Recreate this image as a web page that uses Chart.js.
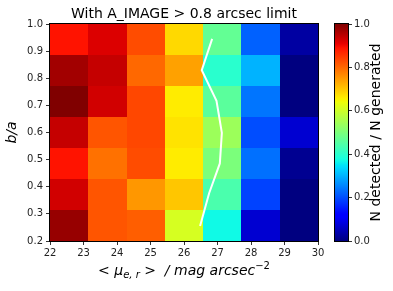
<!DOCTYPE html>
<html>
<head>
<meta charset="utf-8">
<script src="https://cdn.jsdelivr.net/npm/chart.js@4.4.0/dist/chart.umd.min.js"></script>
<style>
  html, body { margin: 0; padding: 0; background: #fff; }
  #wrap { position: relative; width: 393px; height: 291px; }
  #main { position: absolute; left: 0; top: 0; }
  #cbar { position: absolute; left: 320px; top: 0; }
</style>
</head>
<body>
<div id="wrap">
  <canvas id="main" width="393" height="291"></canvas>
  <canvas id="cbar" width="73" height="291"></canvas>
</div>
<script>
// bin edges of the 7x7 grid
const xEdges = [22, 23.143, 24.286, 25.429, 26.571, 27.714, 28.857, 30];
const yEdges = [0.2, 0.314, 0.429, 0.543, 0.657, 0.771, 0.886, 1.0];

// detection fraction, one array per b/a row (bottom row first)
const row1 = [0.98, 0.82, 0.81, 0.61, 0.37, 0.07, 0.00];
const row2 = [0.93, 0.82, 0.75, 0.70, 0.44, 0.19, 0.00];
const row3 = [0.89, 0.79, 0.83, 0.66, 0.50, 0.235, 0.015];
const row4 = [0.94, 0.82, 0.835, 0.67, 0.54, 0.20, 0.07];
const row5 = [1.00, 0.93, 0.835, 0.66, 0.46, 0.24, 0.00];
const row6 = [0.97, 0.94, 0.80, 0.74, 0.40, 0.30, 0.00];
const row7 = [0.89, 0.92, 0.83, 0.68, 0.47, 0.22, 0.03];
const grid = [row1, row2, row3, row4, row5, row6, row7];

// 50% completeness curve
const lineX = [26.48, 26.75, 27.07, 27.13, 26.97, 26.53, 26.84];
const lineY = [0.255, 0.376, 0.486, 0.599, 0.717, 0.830, 0.945];

const xTicks = [22, 23, 24, 25, 26, 27, 28, 29, 30];
const yTicks = [0.2, 0.3, 0.4, 0.5, 0.6, 0.7, 0.8, 0.9, 1.0];
const cbTicks = [0.0, 0.2, 0.4, 0.6, 0.8, 1.0];

const FONT = 'DejaVu Sans';

// matplotlib "jet"
function interp(pts, v) {
  for (let i = 1; i < pts.length; i++) {
    if (v <= pts[i][0]) {
      const a = pts[i - 1], b = pts[i];
      return a[1] + (b[1] - a[1]) * (v - a[0]) / (b[0] - a[0]);
    }
  }
  return pts[pts.length - 1][1];
}
function jet(v) {
  v = Math.max(0, Math.min(1, v));
  const r = interp([[0, 0], [0.35, 0], [0.66, 1], [0.89, 1], [1, 0.5]], v);
  const g = interp([[0, 0], [0.125, 0], [0.375, 1], [0.64, 1], [0.91, 0], [1, 0]], v);
  const b = interp([[0, 0.5], [0.11, 1], [0.34, 1], [0.65, 0], [1, 0]], v);
  return 'rgb(' + Math.round(r * 255) + ',' + Math.round(g * 255) + ',' + Math.round(b * 255) + ')';
}

const heatPlugin = {
  id: 'heat',
  beforeDatasetsDraw(chart) {
    const ctx = chart.ctx, xs = chart.scales.x, ys = chart.scales.y;
    grid.forEach((row, i) => {
      row.forEach((v, j) => {
        const x0 = Math.round(xs.getPixelForValue(xEdges[j]));
        const x1 = Math.round(xs.getPixelForValue(xEdges[j + 1]));
        const y0 = Math.round(ys.getPixelForValue(yEdges[i + 1]));
        const y1 = Math.round(ys.getPixelForValue(yEdges[i]));
        ctx.fillStyle = jet(v);
        ctx.fillRect(x0, y0, x1 - x0, y1 - y0);
      });
    });
  },
  afterDraw(chart) {
    const ctx = chart.ctx, a = chart.chartArea;
    ctx.save();
    ctx.strokeStyle = '#000';
    ctx.lineWidth = 1;
    ctx.strokeRect(Math.round(a.left) - 0.5, Math.round(a.top) - 0.5,
      Math.round(a.right - a.left) + 1, Math.round(a.bottom - a.top) + 1);

    ctx.fillStyle = '#000';

    // title
    ctx.font = '14px ' + FONT;
    ctx.textAlign = 'center';
    ctx.textBaseline = 'alphabetic';
    ctx.fillText('With A_IMAGE > 0.8 arcsec limit', (a.left + a.right) / 2, 18);

    // y label
    ctx.save();
    ctx.translate(12, (a.top + a.bottom) / 2);
    ctx.rotate(-Math.PI / 2);
    ctx.font = 'italic 14px ' + FONT;
    ctx.textAlign = 'center';
    ctx.textBaseline = 'middle';
    ctx.fillText('b/a', 0, 0);
    ctx.restore();

    // x label with sub/superscripts
    const parts = [
      { t: '<', f: '14px ' + FONT, dy: 0 },
      { t: ' μ', f: 'italic 14px ' + FONT, dy: 0 },
      { t: 'e, r', f: 'italic 10px ' + FONT, dy: 3 },
      { t: ' > ', f: '14px ' + FONT, dy: 0 },
      { t: ' / mag arcsec', f: 'italic 14px ' + FONT, dy: 0 },
      { t: '−2', f: '10px ' + FONT, dy: -6 }
    ];
    let w = 0;
    parts.forEach(p => { ctx.font = p.f; p.w = ctx.measureText(p.t).width; w += p.w; });
    let x = (a.left + a.right) / 2 - w / 2;
    ctx.textAlign = 'left';
    ctx.textBaseline = 'alphabetic';
    parts.forEach(p => { ctx.font = p.f; ctx.fillText(p.t, x, 275 + p.dy); x += p.w; });
    ctx.restore();
  }
};

const tickFont = { family: FONT, size: 10 };

new Chart(document.getElementById('main'), {
  type: 'line',
  data: {
    datasets: [{
      data: lineX.map((x, i) => ({ x: x, y: lineY[i] })),
      borderColor: '#fff',
      borderWidth: 2,
      pointRadius: 0,
      tension: 0,
      fill: false
    }]
  },
  options: {
    responsive: false,
    animation: false,
    layout: { padding: { left: 0, right: 75, top: 24, bottom: 0 } },
    plugins: {
      legend: { display: false },
      tooltip: { enabled: false },
      title: { display: false }
    },
    scales: {
      x: {
        type: 'linear', min: 22, max: 30,
        afterBuildTicks(s) { s.ticks = xTicks.map(v => ({ value: v })); },
        ticks: { font: tickFont, color: '#222', padding: 2, maxRotation: 0, autoSkip: false },
        grid: { drawOnChartArea: false, tickLength: 4, color: '#333' },
        border: { display: false },
        afterFit(s) { s.height = 50; }
      },
      y: {
        type: 'linear', min: 0.2, max: 1.0,
        afterBuildTicks(s) { s.ticks = yTicks.map(v => ({ value: v })); },
        ticks: { font: tickFont, color: '#222', padding: 3, autoSkip: false, callback: v => v.toFixed(1) },
        grid: { drawOnChartArea: false, tickLength: 4, color: '#333' },
        border: { display: false },
        afterFit(s) { s.width = 50; }
      }
    }
  },
  plugins: [heatPlugin]
});

const cbPlugin = {
  id: 'cb',
  beforeDatasetsDraw(chart) {
    const ctx = chart.ctx, a = chart.chartArea, ys = chart.scales.y;
    const top = ys.getPixelForValue(1), bot = ys.getPixelForValue(0);
    const g = ctx.createLinearGradient(0, bot, 0, top);
    for (let k = 0; k <= 100; k++) g.addColorStop(k / 100, jet(k / 100));
    ctx.fillStyle = g;
    ctx.fillRect(a.left, top, a.right - a.left, bot - top);
  },
  afterDraw(chart) {
    const ctx = chart.ctx, a = chart.chartArea;
    ctx.save();
    ctx.strokeStyle = '#000';
    ctx.lineWidth = 1;
    ctx.strokeRect(Math.round(a.left) - 0.5, Math.round(a.top) - 0.5,
      Math.round(a.right - a.left) + 1, Math.round(a.bottom - a.top) + 1);
    ctx.translate(56, (a.top + a.bottom) / 2);
    ctx.rotate(-Math.PI / 2);
    ctx.fillStyle = '#000';
    ctx.font = '14px ' + FONT;
    ctx.textAlign = 'center';
    ctx.textBaseline = 'middle';
    ctx.fillText('N detected / N generated', 0, 0);
    ctx.restore();
  }
};

new Chart(document.getElementById('cbar'), {
  type: 'scatter',
  data: { datasets: [] },
  options: {
    responsive: false,
    animation: false,
    layout: { padding: { left: 15, right: 0, top: 24, bottom: 50 } },
    plugins: { legend: { display: false }, tooltip: { enabled: false } },
    scales: {
      x: { display: false, min: 0, max: 1 },
      y: {
        position: 'right', min: 0, max: 1,
        afterBuildTicks(s) { s.ticks = cbTicks.map(v => ({ value: v })); },
        ticks: { font: tickFont, color: '#222', padding: 2, autoSkip: false, callback: v => v.toFixed(1) },
        grid: { drawOnChartArea: false, tickLength: 4, color: '#333' },
        border: { display: false },
        afterFit(s) { s.width = 45; }
      }
    }
  },
  plugins: [cbPlugin]
});
</script>
</body>
</html>
